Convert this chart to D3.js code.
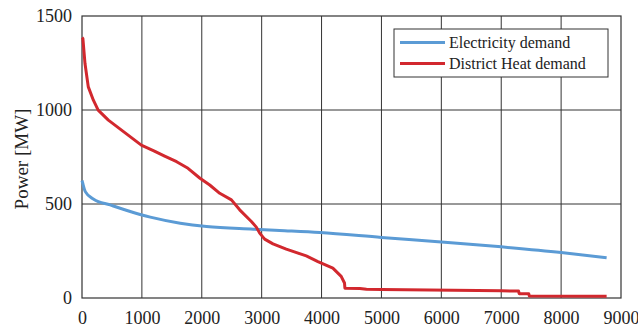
<!DOCTYPE html>
<html>
<head>
<meta charset="utf-8">
<script src="https://cdn.jsdelivr.net/npm/d3@7"></script>
<style>
  body { margin: 0; background: #fff; font-family: "Liberation Serif", Tinos, "Times New Roman", serif; }
  svg text { font-family: "Liberation Serif", Tinos, "Times New Roman", serif !important; }
</style>
</head>
<body>
<div id="chart-area"></div>
<script>
const MARGIN = { LEFT: 82, RIGHT: 17, TOP: 16, BOTTOM: 31 }
const WIDTH = 638 - MARGIN.LEFT - MARGIN.RIGHT
const HEIGHT = 329 - MARGIN.TOP - MARGIN.BOTTOM
const FONT = '"Liberation Serif", Tinos, "Times New Roman", serif'

// hours sorted by demand (load duration curves)
const elecHours = [0, 10, 55, 195, 470, 805, 1140, 1640, 2080, 2860, 3300, 3970, 5000, 6000, 7000, 8000, 8760]
const elecValues = [625, 613, 566, 525, 495, 460, 430, 398, 380, 366, 359, 348, 322, 298, 272, 242, 214]

const heatHours = [0, 15, 50, 105, 190, 270, 440, 660, 990, 1200, 1380, 1580, 1770, 1970, 2133, 2300, 2495, 2633, 2828, 2911, 2967, 3050, 3189, 3411, 3745, 3939, 4189, 4328, 4383, 4390, 4640, 4750, 5000, 7000, 7290, 7300, 7460, 7470, 8760]
const heatValues = [1385, 1380, 1247, 1123, 1052, 999, 946, 893, 813, 783, 755, 725, 690, 637, 601, 557, 522, 469, 407, 377, 345, 313, 288, 260, 224, 194, 159, 115, 80, 52, 51, 47, 45, 38, 37, 23, 22, 10, 9]

const xTicks = [0, 1000, 2000, 3000, 4000, 5000, 6000, 7000, 8000, 9000]
const yTicks = [0, 500, 1000, 1500]

const seriesNames = ["Electricity demand", "District Heat demand"]
const seriesColors = ["#5b9bd5", "#d2282e"]

const svg = d3.select("#chart-area").append("svg")
  .attr("width", WIDTH + MARGIN.LEFT + MARGIN.RIGHT)
  .attr("height", HEIGHT + MARGIN.TOP + MARGIN.BOTTOM)
  .attr("font-family", FONT)

const g = svg.append("g")
  .attr("transform", `translate(${MARGIN.LEFT}, ${MARGIN.TOP})`)

const x = d3.scaleLinear().domain([0, 9000]).range([0, WIDTH])
const y = d3.scaleLinear().domain([0, 1500]).range([HEIGHT, 0])

// grid
g.selectAll(".vgrid").data(xTicks.slice(1, -1)).enter().append("line")
  .attr("x1", d => x(d)).attr("x2", d => x(d))
  .attr("y1", 0).attr("y2", HEIGHT)
  .attr("stroke", "#333").attr("stroke-width", 1)
g.selectAll(".hgrid").data(yTicks.slice(1, -1)).enter().append("line")
  .attr("y1", d => y(d)).attr("y2", d => y(d))
  .attr("x1", 0).attr("x2", WIDTH)
  .attr("stroke", "#333").attr("stroke-width", 1)

// frame
g.append("rect")
  .attr("width", WIDTH).attr("height", HEIGHT)
  .attr("fill", "none").attr("stroke", "#333").attr("stroke-width", 1.2)

// axes
const xAxisCall = d3.axisBottom(x).tickValues(xTicks).tickFormat(d3.format("d")).tickSize(0).tickPadding(13)
const xAxisGroup = g.append("g").attr("transform", `translate(0, ${HEIGHT})`).call(xAxisCall)
const yAxisCall = d3.axisLeft(y).tickValues(yTicks).tickFormat(d3.format("d")).tickSize(0).tickPadding(10)
const yAxisGroup = g.append("g").call(yAxisCall)
;[xAxisGroup, yAxisGroup].forEach(a => {
  a.select(".domain").remove()
  a.attr("font-family", FONT).attr("font-size", 18)
  a.selectAll("text").attr("fill", "#222")
})

// Y label
g.append("text")
  .attr("x", -143)
  .attr("y", -54)
  .attr("font-size", 19)
  .attr("text-anchor", "middle")
  .attr("transform", "rotate(-90)")
  .attr("fill", "#222")
  .text("Power [MW]")

// lines
const series = [
  d3.zip(elecHours, elecValues),
  d3.zip(heatHours, heatValues)
]
const curves = [d3.curveMonotoneX, d3.curveLinear]
series.forEach((s, i) => {
  const line = d3.line().x(d => x(d[0])).y(d => y(d[1])).curve(curves[i])
  g.append("path")
    .datum(s)
    .attr("d", line)
    .attr("fill", "none")
    .attr("stroke", seriesColors[i])
    .attr("stroke-width", 3)
    .attr("stroke-linejoin", "round")
})

// legend
const legend = svg.append("g").attr("transform", "translate(394, 29)")
legend.append("rect")
  .attr("width", 214).attr("height", 48)
  .attr("fill", "#fff").attr("stroke", "#333").attr("stroke-width", 1)
seriesNames.forEach((name, i) => {
  const row = legend.append("g").attr("transform", `translate(0, ${13.5 + i * 21})`)
  row.append("line")
    .attr("x1", 6).attr("x2", 51)
    .attr("stroke", seriesColors[i]).attr("stroke-width", 3)
  row.append("text")
    .attr("x", 55).attr("y", 5.5)
    .attr("font-size", 16)
    .attr("fill", "#222")
    .text(name)
})
</script>
</body>
</html>
